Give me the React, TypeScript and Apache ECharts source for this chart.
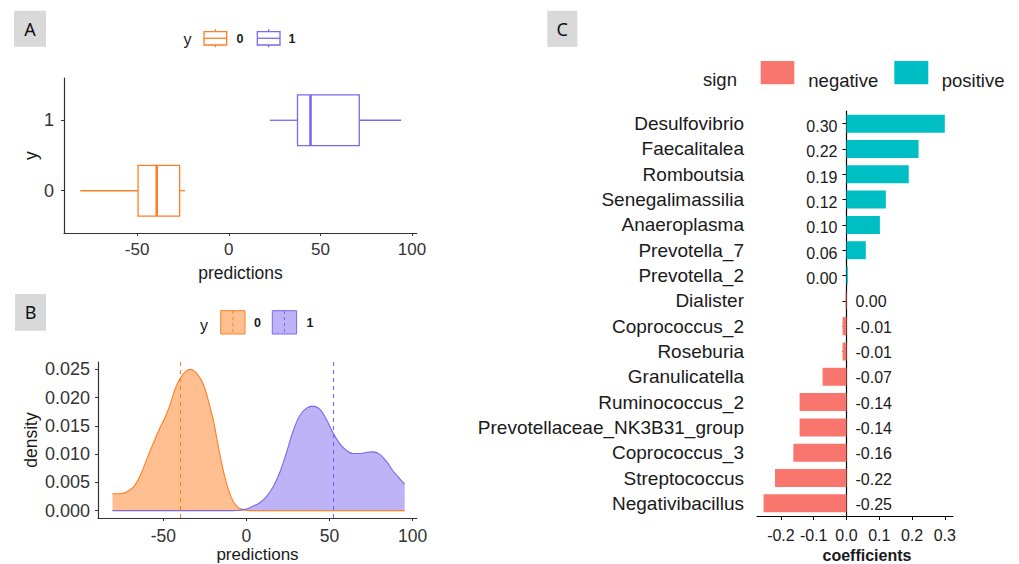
import React, { useEffect, useRef } from "react";
import * as echarts from "echarts";

const ORANGE = "#FF7F24";
const PURPLE = "#7B68EE";
const NEG = "#F8766D";
const POS = "#00BFC4";
const FONT = "'Liberation Sans', Arial, sans-serif";
const AXIS = "#333333";
const TXT = "#1a1a1a";

// Panel A: boxplot stats per group [low whisker, Q1, median, Q3, high whisker]
const boxGroups = [0, 1];
const boxStats0 = [-81, -49.5, -39.3, -26.8, -23.9];
const boxStats1 = [22.4, 37.5, 44.6, 71.2, 94];
const predTicks = [-50, 0, 50, 100];
const groupTicks = [0, 1];

// Panel B: density curves
const dens0X = [-80.6, -76, -72.8, -67.9, -63.9, -59.8, -55.8, -51.8, -48.8, -45.8, -42.8, -39.8, -36.7, -33.7, -29.7, -25.7, -22.7, -19.7, -16.7, -13.7, -10.7, -7.7, -4.6, -1.6, 2, 10, 20, 30, 40, 50, 60, 70, 80, 90, 95.2];
const dens0Y = [0.003, 0.003, 0.0032, 0.0042, 0.0062, 0.0092, 0.0121, 0.0148, 0.0166, 0.0189, 0.0216, 0.0234, 0.0246, 0.025, 0.0242, 0.0222, 0.0192, 0.0157, 0.011, 0.0068, 0.0036, 0.0015, 0.0005, 0.0002, 0, 0, 0, 0, 0, 0, 0, 0, 0, 0, 0];
const dens1X = [-80.6, -70, -60, -50, -40, -30, -20, -12, -8, -4, 0, 4, 8, 12, 16, 20, 24, 28, 32, 36, 40, 44, 48, 52, 56, 60, 64, 68, 72, 76, 80, 84, 88, 92, 95.2];
const dens1Y = [0, 0, 0, 0, 0, 0, 0, 0, 0, 0.0001, 0.0003, 0.0008, 0.0014, 0.0025, 0.0042, 0.0067, 0.0102, 0.014, 0.0168, 0.0181, 0.0185, 0.018, 0.0162, 0.0138, 0.0119, 0.0107, 0.0101, 0.0101, 0.0103, 0.0104, 0.01, 0.0088, 0.0071, 0.0057, 0.0047];
const vline0 = -40;
const vline1 = 52.4;
const densTicks = [0, 0.005, 0.01, 0.015, 0.02, 0.025];

// Panel C: coefficients
const taxa = [
  "Desulfovibrio", "Faecalitalea", "Romboutsia", "Senegalimassilia", "Anaeroplasma",
  "Prevotella_7", "Prevotella_2", "Dialister", "Coprococcus_2", "Roseburia",
  "Granulicatella", "Ruminococcus_2", "Prevotellaceae_NK3B31_group", "Coprococcus_3",
  "Streptococcus", "Negativibacillus",
];
const coefs = [0.30, 0.22, 0.19, 0.12, 0.102, 0.059, 0.004, -0.003, -0.012, -0.012, -0.073, -0.143, -0.143, -0.162, -0.218, -0.253];
const coefTicks = [-0.2, -0.1, 0, 0.1, 0.2, 0.3];

const fmtCoef = (v: number) => (Math.abs(v) < 0.005 ? "0.00" : v.toFixed(2));

function panelLabel(x: number, y: number, w: number, h: number, t: string) {
  return [
    { type: "rect", shape: { x, y, width: w, height: h }, style: { fill: "#D9D9D9" } },
    {
      type: "text", x: x + w / 2, y: y + h / 2,
      style: { text: t, fill: "#111", font: "18px 'Noto Sans', sans-serif", align: "center", verticalAlign: "middle" },
    },
  ];
}

function boxKey(x: number, color: string) {
  const w = 22.7, cx = x + w / 2;
  const s = { stroke: color, lineWidth: 1.3 };
  return [
    { type: "rect", shape: { x, y: 31.7, width: w, height: 13.3 }, style: { fill: "#fff", ...s } },
    { type: "line", shape: { x1: x, y1: 38.3, x2: x + w, y2: 38.3 }, style: s },
    { type: "line", shape: { x1: cx, y1: 29.3, x2: cx, y2: 31.7 }, style: s },
    { type: "line", shape: { x1: cx, y1: 45, x2: cx, y2: 47.3 }, style: s },
  ];
}

function densKey(x: number, color: string) {
  const w = 24.3;
  return [
    { type: "rect", shape: { x, y: 310.7, width: w, height: 23.3 }, style: { fill: color, opacity: 0.5 } },
    { type: "rect", shape: { x, y: 310.7, width: w, height: 23.3 }, style: { fill: "none", stroke: color, lineWidth: 1 } },
    { type: "line", shape: { x1: x + w / 2, y1: 311, x2: x + w / 2, y2: 334 }, style: { stroke: color, lineWidth: 1, lineDash: [3, 3] } },
  ];
}

function txt(x: number, y: number, t: string, font: string, align = "left") {
  return { type: "text", x, y, style: { text: t, fill: TXT, font, align, verticalAlign: "middle" } };
}

export default function App() {
  const ref = useRef<HTMLDivElement>(null);
  useEffect(() => {
    if (!ref.current) return;
    const chart = echarts.init(ref.current, undefined, { renderer: "svg" });

    const axisCommon = (color: string) => ({
      axisLine: { show: true, onZero: false, lineStyle: { color, width: 1.2 } },
      splitLine: { show: false },
    });

    const option: any = {
      animation: false,
      backgroundColor: "#fff",
      textStyle: { fontFamily: FONT },
      grid: [
        { left: 64, top: 78, width: 353, height: 155, outerBoundsMode: "none" },
        { left: 98, top: 362, width: 319, height: 156, outerBoundsMode: "none" },
        { left: 757, top: 111, width: 196, height: 405, outerBoundsMode: "none" },
      ],
      xAxis: [
        {
          gridIndex: 0, type: "value", min: -89.9, max: 102.7, ...axisCommon(AXIS),
          axisTick: { show: true, length: 3, customValues: predTicks, lineStyle: { color: AXIS } },
          axisLabel: { customValues: predTicks, fontSize: 17, color: "#333", margin: 8, fontFamily: FONT },
          name: "predictions", nameLocation: "middle", nameGap: 31,
          nameTextStyle: { fontSize: 17.5, color: TXT, fontFamily: FONT },
        },
        {
          gridIndex: 1, type: "value", min: -89.3, max: 102.6, ...axisCommon(AXIS),
          axisTick: { show: true, length: 3, customValues: predTicks, lineStyle: { color: AXIS } },
          axisLabel: { customValues: predTicks, fontSize: 17.5, color: "#333", margin: 9, fontFamily: FONT },
          name: "predictions", nameLocation: "middle", nameGap: 27,
          nameTextStyle: { fontSize: 17, color: TXT, fontFamily: FONT },
        },
        {
          gridIndex: 2, type: "value", min: -0.273, max: 0.325, ...axisCommon("#000"),
          axisTick: { show: true, length: 4, customValues: coefTicks, lineStyle: { color: "#000" } },
          axisLabel: {
            customValues: coefTicks, fontSize: 16, color: TXT, margin: 11, fontFamily: FONT,
            formatter: (v: number) => v.toFixed(1),
          },
          name: "coefficients", nameLocation: "middle", nameGap: 31,
          nameTextStyle: { fontSize: 16, fontWeight: "bold", color: TXT, fontFamily: FONT, padding: [0, 0, 0, 24] },
        },
      ],
      yAxis: [
        {
          gridIndex: 0, type: "value", min: -0.6, max: 1.6, ...axisCommon(AXIS),
          axisTick: { show: true, length: 3, customValues: groupTicks, lineStyle: { color: AXIS } },
          axisLabel: { customValues: groupTicks, fontSize: 18, color: "#333", margin: 10, fontFamily: FONT },
          name: "y", nameLocation: "middle", nameGap: 24,
          nameTextStyle: { fontSize: 17.5, color: TXT, fontFamily: FONT },
        },
        {
          gridIndex: 1, type: "value", min: -0.0013, max: 0.0263, ...axisCommon(AXIS),
          axisTick: { show: true, length: 3, customValues: densTicks, lineStyle: { color: AXIS } },
          axisLabel: {
            customValues: densTicks, fontSize: 18, color: "#333", margin: 8, fontFamily: FONT,
            formatter: (v: number) => v.toFixed(3),
          },
          name: "density", nameLocation: "middle", nameGap: 58,
          nameTextStyle: { fontSize: 17.5, color: TXT, fontFamily: FONT },
        },
        {
          gridIndex: 2, type: "category", inverse: true, data: taxa,
          axisLine: { show: true, lineStyle: { color: "#000", width: 1.2 } },
          axisTick: { show: true, length: 4, alignWithLabel: true, lineStyle: { color: "#000" } },
          axisLabel: { fontSize: 19, color: TXT, margin: 13, fontFamily: FONT, interval: 0 },
          splitLine: { show: false },
        },
      ],
      series: [
        {
          type: "custom",
          xAxisIndex: 0, yAxisIndex: 0,
          data: [
            [boxGroups[0], ...boxStats0],
            [boxGroups[1], ...boxStats1],
          ],
          encode: { x: [1, 2, 3, 4, 5], y: 0 },
          renderItem: (params: any, api: any) => {
            const g = api.value(0);
            const lo = api.value(1), q1 = api.value(2), md = api.value(3), q3 = api.value(4), hi = api.value(5);
            const color = g === 0 ? ORANGE : PURPLE;
            const pLo = api.coord([lo, g]);
            const pQ1 = api.coord([q1, g]);
            const pMd = api.coord([md, g]);
            const pQ3 = api.coord([q3, g]);
            const pHi = api.coord([hi, g]);
            const top = api.coord([q1, g + 0.36])[1];
            const bot = api.coord([q1, g - 0.36])[1];
            const s = { stroke: color, lineWidth: 1.3 };
            return {
              type: "group",
              children: [
                { type: "line", shape: { x1: pLo[0], y1: pLo[1], x2: pQ1[0], y2: pQ1[1] }, style: s },
                { type: "line", shape: { x1: pQ3[0], y1: pQ3[1], x2: pHi[0], y2: pHi[1] }, style: s },
                { type: "rect", shape: { x: pQ1[0], y: top, width: pQ3[0] - pQ1[0], height: bot - top }, style: { fill: "#fff", ...s } },
                { type: "line", shape: { x1: pMd[0], y1: top, x2: pMd[0], y2: bot }, style: { stroke: color, lineWidth: 2.6 } },
              ],
            };
          },
        },
        {
          type: "line", xAxisIndex: 1, yAxisIndex: 1,
          data: dens0X.map((x, i) => [x, dens0Y[i]]),
          showSymbol: false, smooth: 0.3,
          lineStyle: { color: ORANGE, width: 1.1 },
          itemStyle: { color: ORANGE },
          areaStyle: { color: ORANGE, opacity: 0.5 },
          markLine: {
            silent: true, symbol: ["none", "none"], label: { show: false },
            lineStyle: { color: ORANGE, type: [4, 4], width: 1.1 },
            data: [{ xAxis: vline0 }],
          },
        },
        {
          type: "line", xAxisIndex: 1, yAxisIndex: 1,
          data: dens1X.map((x, i) => [x, dens1Y[i]]),
          showSymbol: false, smooth: 0.4,
          lineStyle: { color: PURPLE, width: 1.1 },
          itemStyle: { color: PURPLE },
          areaStyle: { color: PURPLE, opacity: 0.5 },
          markLine: {
            silent: true, symbol: ["none", "none"], label: { show: false },
            lineStyle: { color: PURPLE, type: [4, 4], width: 1.1 },
            data: [{ xAxis: vline1 }],
          },
        },
        {
          type: "bar", xAxisIndex: 2, yAxisIndex: 2, barWidth: 18,
          data: coefs.map((v) => ({ value: v, itemStyle: { color: v >= 0 ? POS : NEG } })),
        },
        {
          type: "custom", xAxisIndex: 2, yAxisIndex: 2,
          data: coefs.map((v, i) => [0, i, v]),
          encode: { x: 0, y: 1 },
          renderItem: (params: any, api: any) => {
            const v = api.value(2);
            const p = api.coord([0, api.value(1)]);
            const neg = v < 0;
            return {
              type: "text",
              x: p[0] + (neg ? 9 : -9),
              y: p[1] + (neg ? 1 : 3),
              style: {
                text: fmtCoef(v), fill: TXT, font: `16px ${FONT}`,
                align: neg ? "left" : "right", verticalAlign: "middle",
              },
            };
          },
        },
      ],
      graphic: {
        elements: [
          ...panelLabel(14, 10.7, 32, 36, "A"),
          ...panelLabel(15, 294, 31, 36.7, "B"),
          ...panelLabel(547.3, 10.7, 30, 36.3, "C"),
          // legend A
          txt(183.5, 39, "y", `16px ${FONT}`),
          ...boxKey(204, ORANGE),
          txt(236.5, 39, "0", `bold 12.5px ${FONT}`),
          ...boxKey(257.3, PURPLE),
          txt(288.5, 39, "1", `bold 12.5px ${FONT}`),
          // legend B
          txt(200, 325, "y", `16px ${FONT}`),
          ...densKey(220.7, ORANGE),
          txt(254, 323, "0", `bold 12.5px ${FONT}`),
          ...densKey(272.3, PURPLE),
          txt(306.5, 323, "1", `bold 12.5px ${FONT}`),
          // legend C
          txt(703, 79, "sign", `18.5px ${FONT}`),
          { type: "rect", shape: { x: 760.7, y: 61, width: 33.6, height: 23.3 }, style: { fill: NEG } },
          txt(808.3, 80, "negative", `18.5px ${FONT}`),
          { type: "rect", shape: { x: 894.3, y: 61, width: 34, height: 23.3 }, style: { fill: POS } },
          txt(941.7, 80, "positive", `18.5px ${FONT}`),
        ],
      },
    };

    chart.setOption(option);
    return () => chart.dispose();
  }, []);

  return <div ref={ref} style={{ position: "absolute", left: 0, top: 0, width: 1019, height: 564 }} />;
}
